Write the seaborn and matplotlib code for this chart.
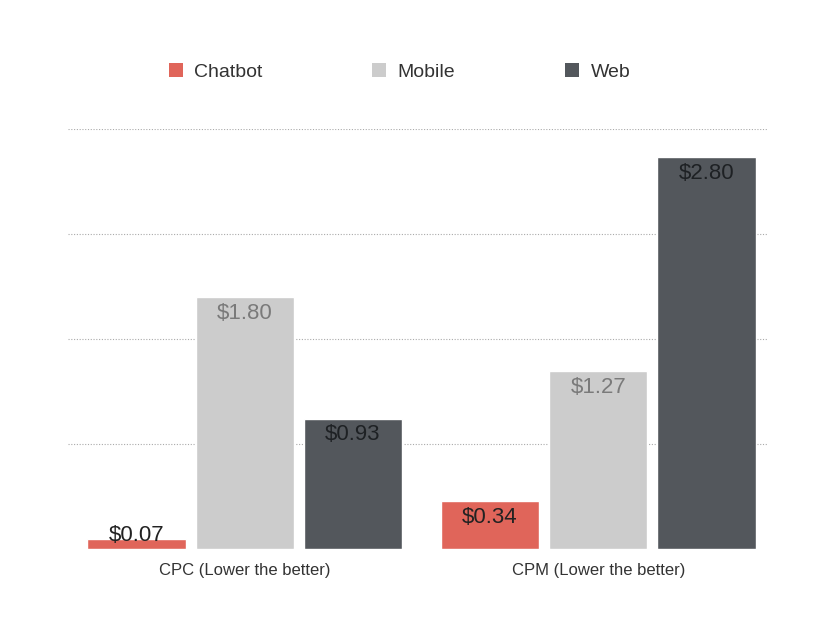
import matplotlib
matplotlib.use("Agg")
import pandas as pd
import numpy as np
import seaborn as sns
import matplotlib.pyplot as plt
from matplotlib.patches import Patch

metrics = ["CPC (Lower the better)", "CPM (Lower the better)"]
series = ["Chatbot", "Mobile", "Web"]
chatbot = [0.07, 0.34]
mobile = [1.80, 1.27]
web = [0.93, 2.80]

colors = {"Chatbot": "#E0655A", "Mobile": "#CCCCCC", "Web": "#53575C"}
label_colors = {"Chatbot": "#222222", "Mobile": "#7a7a7a", "Web": "#1e2124"}

data = pd.DataFrame({
    "metric": metrics * 3,
    "platform": ["Chatbot"] * 2 + ["Mobile"] * 2 + ["Web"] * 2,
    "value": chatbot + mobile + web,
})

sns.set_theme(style="white")
plt.rcParams["font.family"] = ["Liberation Sans", "DejaVu Sans"]

fig = plt.figure(figsize=(8.38, 6.39), dpi=100)
ax = fig.add_axes([0.0811, 0.1408, 0.8353, 0.6573])

sns.barplot(data=data, x="metric", y="value", hue="platform", hue_order=series,
            palette=colors, width=0.918, gap=0.09, ax=ax, legend=False,
            saturation=1, errorbar=None)

ax.set_ylim(0, 3)
ax.set_xlim(-0.5, 1.48)
ax.set_yticks([0.75, 1.5, 2.25, 3.0])
ax.set_yticklabels([])
ax.yaxis.grid(True, linestyle=(0, (1, 1.5)), color="#aaaaaa", linewidth=0.8)
ax.set_axisbelow(True)
for s in ax.spines.values():
    s.set_visible(False)
ax.set_xlabel("")
ax.set_ylabel("")
ax.tick_params(axis="x", length=0, pad=10, labelsize=12, labelcolor="#333333")
ax.tick_params(axis="y", length=0)

vals = {"Chatbot": chatbot, "Mobile": mobile, "Web": web}
for name, cont in zip(series, ax.containers):
    for bar, v in zip(cont, vals[name]):
        x = bar.get_x() + bar.get_width() / 2
        y = max(v - 0.115, 0.1)
        ax.text(x, y, f"${v:.2f}", ha="center", va="center", fontsize=16,
                color=label_colors[name])

handles = [Patch(facecolor=colors[s], edgecolor="none", label=s) for s in series]
fig.legend(handles=handles, loc="center", bbox_to_anchor=(0.4767, 0.887), ncol=3,
           frameon=False, fontsize=14, handlelength=0.72, handleheight=0.72,
           handletextpad=0.57, columnspacing=5.67, labelcolor="#333333")

fig.savefig("out.png", dpi=100)
